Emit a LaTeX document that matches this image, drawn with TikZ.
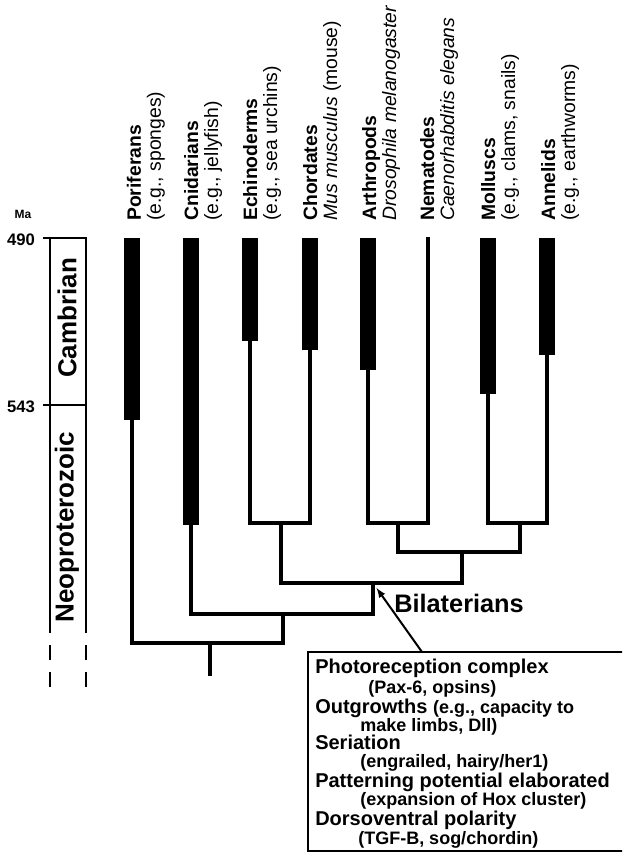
\documentclass[tikz,border=0pt]{standalone}
\usepackage{fontspec}
\setmainfont{Liberation Sans}
\usetikzlibrary{arrows}

\begin{document}
\begin{tikzpicture}[
    x=0.75pt, y=-0.75pt,
    barre/.style={fill=black},
    branche/.style={line width=2.3pt, line join=miter},
    cadre/.style={line width=0.9pt},
    fleche/.style={line width=1.5pt, -latex, shorten >=4.5pt},
    taxon/.style={rotate=90, anchor=west, align=left, inner sep=0pt,
        font=\fontsize{14.5}{15}\selectfont},
    periode/.style={rotate=90, inner sep=0pt, font=\fontsize{19.5}{22}\selectfont\bfseries},
    titre/.style={anchor=base west, inner sep=0pt, font=\fontsize{15}{17}\selectfont\bfseries},
    detail/.style={anchor=base west, inner sep=0pt, font=\fontsize{13.5}{16}\selectfont\bfseries}
]

% Cadre de l'image
\useasboundingbox (0,0) rectangle (622,854);
\clip (0,0) rectangle (622,854);

% Echelle des temps (Ma)
\node[font=\fontsize{9}{10}\selectfont\bfseries] (ma) at (23,214) {Ma};
\node[font=\fontsize{12.5}{14}\selectfont\bfseries] (t490) at (21,240) {490};
\node[font=\fontsize{12.5}{14}\selectfont\bfseries] (t543) at (21,407) {543};
\draw[line width=1.2pt] (43,238) -- (87,238);
\draw[line width=1.2pt] (43,405) -- (87,405);
\draw[cadre] (50,238) -- (50,633);
\draw[cadre] (86,238) -- (86,633);
\draw[cadre, dash pattern=on 11.25pt off 9pt] (50,645) -- (50,690);
\draw[cadre, dash pattern=on 11.25pt off 9pt] (86,645) -- (86,690);
\node[periode] (camb) at (67,318) {Cambrian};
\node[periode] (neo) at (67,527) {Neoproterozoic};

% Extremites des lignees
\coordinate (P) at (132,420);
\coordinate (C) at (191,525);
\coordinate (E) at (250,341);
\coordinate (Ch) at (310,350);
\coordinate (A) at (368,370);
\coordinate (N) at (428,237);
\coordinate (M) at (488,394);
\coordinate (An) at (547,355);

% Noeuds de l'arbre
\coordinate (ECh) at (281,523);
\coordinate (AN) at (398,523);
\coordinate (MAn) at (520,523);
\coordinate (Prot) at (462,552);
\coordinate (Bil) at (373,583);
\coordinate (Eum) at (283,614);
\coordinate (Rac) at (210,643);
\coordinate (Base) at (210,676);

% Registre fossile (barres noires)
\fill[barre] (124,238) rectangle (140,420);
\fill[barre] (183,238) rectangle (199,525);
\fill[barre] (242,238) rectangle (258,341);
\fill[barre] (302,238) rectangle (318,350);
\fill[barre] (360,238) rectangle (376,370);
\fill[barre] (480,238) rectangle (496,394);
\fill[barre] (539,238) rectangle (555,355);

% Branches
\draw[branche] (E) |- (ECh) -| (Ch);
\draw[branche] (A) |- (AN) -| (N);
\draw[branche] (M) |- (MAn) -| (An);
\draw[branche] (AN) |- (Prot) -| (MAn);
\draw[branche] (ECh) |- (Bil) -| (Prot);
\draw[branche] (C) |- (Eum) -| (Bil);
\draw[branche] (P) |- (Rac) -| (Eum);
\draw[branche] (Rac) -- (Base);

% Noms des groupes
\node[taxon] (tP) at (146,221) {\textbf{Poriferans}\\(e.g., sponges)};
\node[taxon] (tC) at (203,221) {\textbf{Cnidarians}\\(e.g., jellyfish)};
\node[taxon] (tE) at (262,221) {\textbf{Echinoderms}\\(e.g., sea urchins)};
\node[taxon] (tCh) at (322,221) {\textbf{Chordates}\\\textit{Mus musculus} (mouse)};
\node[taxon] (tA) at (381,221) {\textbf{Arthropods}\\\textit{Drosophila melanogaster}};
\node[taxon] (tN) at (439,221) {\textbf{Nematodes}\\\textit{Caenorhabditis elegans}};
\node[taxon] (tM) at (500,221) {\textbf{Molluscs}\\(e.g., clams, snails)};
\node[taxon] (tAn) at (560,221) {\textbf{Annelids}\\(e.g., earthworms)};

\node[anchor=west, inner sep=0pt, font=\fontsize{19}{22}\selectfont\bfseries] (bilat) at (394,603) {Bilaterians};

% Innovations des bilateriens
\coordinate (fl) at (422,652);
\draw[cadre, line width=1.2pt] (623,652) -- (308,652) -- (308,851) -- (623,851);
\draw[fleche] (fl) -- (Bil);
\node[titre] (i1) at (315,673) {Photoreception complex};
\node[detail] (d1) at (368,693) {(Pax-6, opsins)};
\node[titre] (i2) at (315,713) {Outgrowths {\fontsize{13.5}{16}\selectfont(e.g., capacity to}};
\node[detail] (d2) at (360,731) {make limbs, Dll)};
\node[titre] (i3) at (315,749) {Seriation};
\node[detail] (d3) at (360,767) {(engrailed, hairy/her1)};
\node[titre] (i4) at (315,787) {Patterning potential elaborated};
\node[detail] (d4) at (360,805) {(expansion of Hox cluster)};
\node[titre] (i5) at (315,825) {Dorsoventral polarity};
\node[detail] (d5) at (358,844) {(TGF-B, sog/chordin)};

\end{tikzpicture}
\end{document}
